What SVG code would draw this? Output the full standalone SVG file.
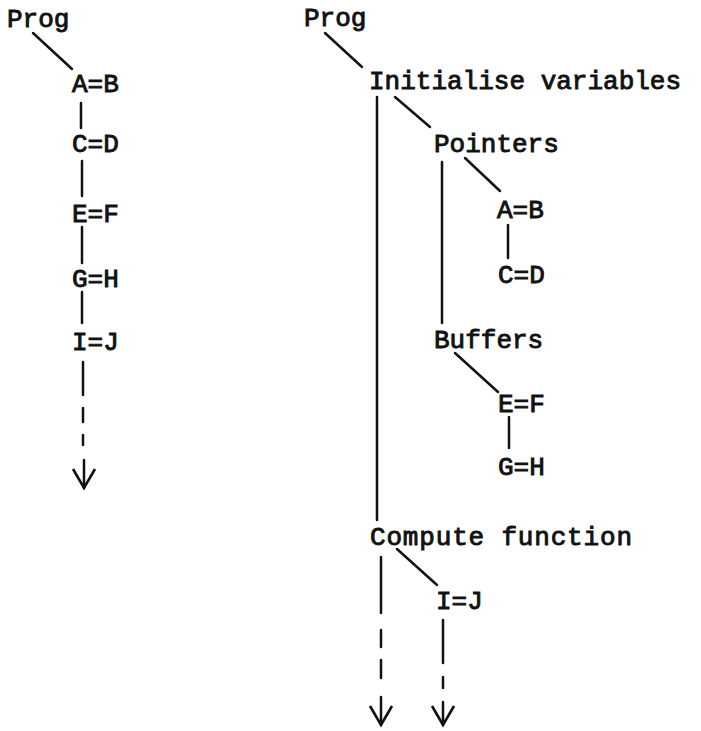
<svg xmlns="http://www.w3.org/2000/svg" width="701" height="731" viewBox="0 0 701 731">
<defs>
<style>
.t{font-family:"Liberation Mono","Courier New",monospace;font-size:26px;fill:#111;stroke:#111;stroke-width:0.9;}
.c line{stroke:#111;stroke-width:2.5;stroke-linecap:round;}
</style>
<marker id="vee" viewBox="-22 -13 26 26" refX="0" refY="0" markerWidth="26" markerHeight="26" markerUnits="userSpaceOnUse" orient="auto">
<path d="M-19,-11 L0,0 L-19,11" fill="none" stroke="#111" stroke-width="2.6" stroke-linejoin="miter"/>
</marker>
</defs>
<rect width="701" height="731" fill="#fff"/>
<g id="left-prog"><text class="t" x="7" y="27">Prog</text></g>
<g id="left-ab"><text class="t" x="72" y="92">A=B</text></g>
<g id="left-cd"><text class="t" x="72" y="152">C=D</text></g>
<g id="left-ef"><text class="t" x="72" y="222">E=F</text></g>
<g id="left-gh"><text class="t" x="72" y="287">G=H</text></g>
<g id="left-ij"><text class="t" x="72" y="350">I=J</text></g>
<g id="right-prog"><text class="t" x="304" y="26">Prog</text></g>
<g id="init"><text class="t" x="369" y="89">Initialise variables</text></g>
<g id="pointers"><text class="t" x="434" y="152">Pointers</text></g>
<g id="right-ab"><text class="t" x="497" y="218">A=B</text></g>
<g id="right-cd"><text class="t" x="498" y="283">C=D</text></g>
<g id="buffers"><text class="t" x="434" y="348">Buffers</text></g>
<g id="right-ef"><text class="t" x="498" y="412">E=F</text></g>
<g id="right-gh"><text class="t" x="498" y="475">G=H</text></g>
<g id="compute"><text class="t" x="370" y="545" textLength="262" lengthAdjust="spacing">Compute function</text></g>
<g id="right-ij"><text class="t" x="436" y="609">I=J</text></g>
<g id="connectors" class="c">
<line x1="33" y1="33" x2="72" y2="69"/>
<line x1="81" y1="103" x2="81" y2="128"/>
<line x1="82" y1="161" x2="82" y2="196"/>
<line x1="82" y1="227" x2="82" y2="263"/>
<line x1="82" y1="292" x2="82" y2="323"/>
<line x1="83" y1="362" x2="83" y2="395"/>
<line x1="83" y1="408" x2="83" y2="422"/>
<line x1="83" y1="435" x2="83" y2="445"/>
<line x1="84" y1="460" x2="84" y2="488" marker-end="url(#vee)"/>
<line x1="325" y1="33" x2="362" y2="67"/>
<line x1="377" y1="97" x2="377" y2="520"/>
<line x1="395" y1="97" x2="430" y2="127"/>
<line x1="442" y1="162" x2="442" y2="323"/>
<line x1="465" y1="158" x2="500" y2="191"/>
<line x1="508" y1="225" x2="508" y2="258"/>
<line x1="455" y1="353" x2="498" y2="392"/>
<line x1="509" y1="417" x2="509" y2="448"/>
<line x1="397" y1="549" x2="437" y2="585"/>
<line x1="381" y1="557" x2="381" y2="613"/>
<line x1="381" y1="630" x2="381" y2="647"/>
<line x1="381" y1="660" x2="381" y2="678"/>
<line x1="381" y1="697" x2="381" y2="725" marker-end="url(#vee)"/>
<line x1="443" y1="620" x2="443" y2="663"/>
<line x1="443" y1="677" x2="443" y2="688"/>
<line x1="443" y1="702" x2="443" y2="725" marker-end="url(#vee)"/>
</g>
</svg>
